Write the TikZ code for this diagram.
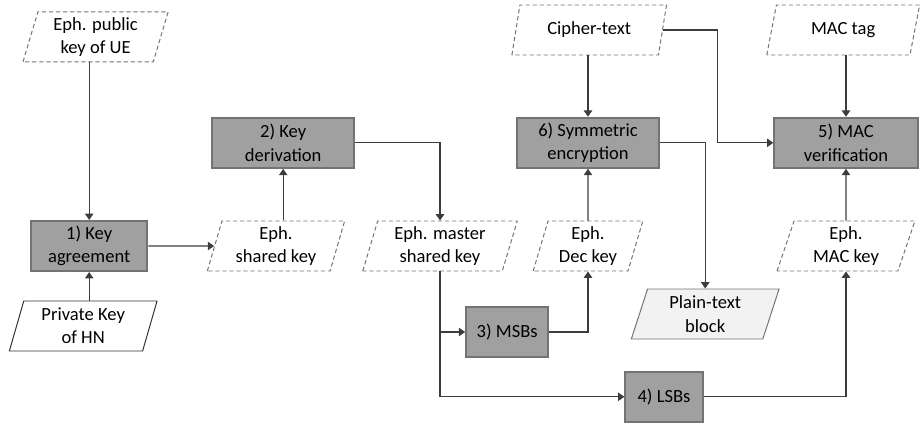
\documentclass[tikz,border=0pt]{standalone}
\usepackage{fontspec}
\setmainfont{Carlito}
\usetikzlibrary{shapes.geometric,arrows.meta}
\definecolor{cajagris}{RGB}{160,160,160}
\definecolor{bordegris}{RGB}{115,115,115}
\definecolor{lineagris}{RGB}{60,60,60}
\definecolor{fondoclaro}{RGB}{242,242,242}
\tikzset{
  paso/.style={draw=bordegris, line width=1.5pt, fill=cajagris,
    minimum height=1.25cm, align=center, inner sep=2pt},
  dato/.style={trapezium, trapezium left angle=75, trapezium right angle=105,
    trapezium stretches=true, draw=bordegris, dash pattern=on 3pt off 2pt,
    line width=0.7pt, minimum height=1.25cm, align=center, inner sep=1pt},
  fijo/.style={dato, solid, draw=black!80},
  flecha/.style={->, draw=lineagris, line width=0.8pt}
}
\begin{document}
\begin{tikzpicture}[>={Triangle[length=4.5pt,width=6pt]},
    font=\fontsize{13.2}{16.6}\selectfont]
    \useasboundingbox (0,0) rectangle (23.05,10.7);
    % Entradas
    \node[dato, minimum width=3.63cm] (pub) at (2.39,9.78) {Eph. public\\key of UE};
    \node[fijo, minimum width=3.7cm] (priv) at (2.08,2.55) {Private Key\\of HN};
    \node[dato, minimum width=3.88cm] (cipher) at (14.73,9.95) {Cipher-text};
    \node[dato, minimum width=3.83cm] (mactag) at (21.08,9.95) {MAC tag};
    % Pasos
    \node[paso, minimum width=2.9cm] (agree) at (2.23,4.55) {1) Key\\agreement};
    \node[paso, minimum width=3.55cm] (deriv) at (7.08,7.13) {2) Key\\derivation};
    \node[paso, minimum width=2.05cm] (msb) at (12.68,2.4) {3) MSBs};
    \node[paso, minimum width=1.93cm] (lsb) at (16.6,0.78) {4) LSBs};
    \node[paso, minimum width=3.58cm] (macver) at (21.15,7.13) {5) MAC\\verification};
    \node[paso, minimum width=3.53cm] (sym) at (14.7,7.13) {6) Symmetric\\encryption};
    % Claves intermedias
    \node[dato, minimum width=3.45cm] (shared) at (6.9,4.55) {Eph.\\shared key};
    \node[dato, minimum width=3.88cm] (master) at (11.0,4.55) {Eph. master\\shared key};
    \node[dato, minimum width=2.75cm] (dec) at (14.7,4.55) {Eph.\\Dec key};
    \node[dato, minimum width=3.45cm] (mackey) at (21.15,4.55) {Eph.\\MAC key};
    % Salida
    \node[fijo, draw=bordegris, fill=fondoclaro, minimum width=3.7cm] (plain) at (17.63,2.85) {Plain-text\\block};
    \coordinate (cbend) at (17.93,7.13);
    % Conexiones
    \draw[flecha] (agree.north |- pub.south) -- (agree.north);
    \draw[flecha] (agree.south |- priv.north) -- (agree.south);
    \draw[flecha] (agree.east) -- (shared.west);
    \draw[flecha] (deriv.south |- shared.north) -- (deriv.south);
    \draw[flecha] (deriv.east) -| (master.north);
    \draw[flecha] (master.south) |- (msb.west);
    \draw[flecha] (master.south) |- (lsb.west);
    \draw[flecha] (msb.east) -| (dec.south);
    \draw[flecha] (dec.north) -- (sym.south);
    \draw[flecha] (sym.north |- cipher.south) -- (sym.north);
    \draw[flecha] (sym.east) -| (plain.north);
    \draw[flecha] (cipher.east) -| (cbend) -- (macver.west);
    \draw[flecha] (macver.north |- mactag.south) -- (macver.north);
    \draw[flecha] (lsb.east) -| (mackey.south);
    \draw[flecha] (mackey.north) -- (macver.south);
\end{tikzpicture}
\end{document}
